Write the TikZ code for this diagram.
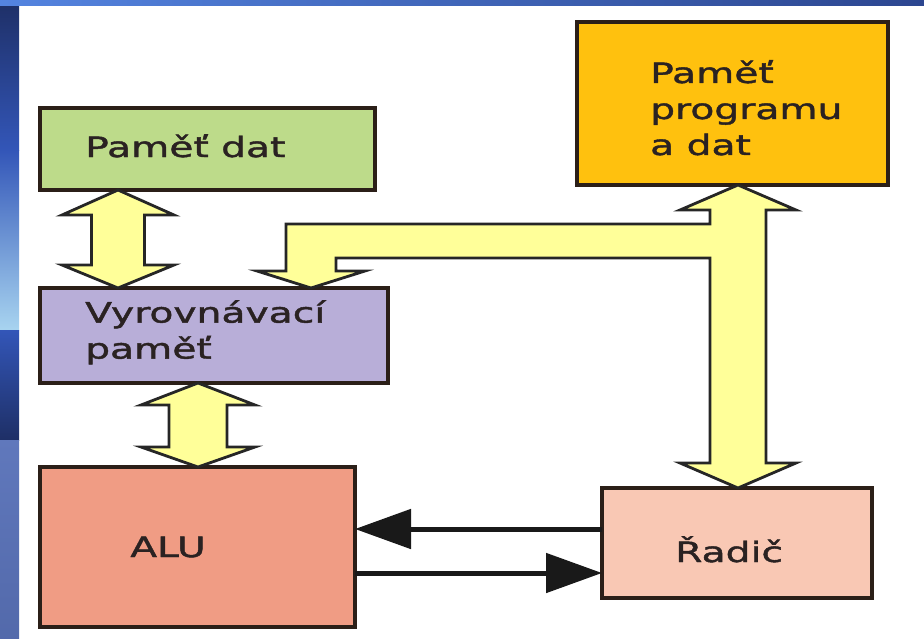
\documentclass[tikz,border=0pt]{standalone}
\usepackage{fontspec}
\setmainfont{DejaVu Sans}[FakeStretch=1.4,FakeBold=1.5]
\usetikzlibrary{arrows.meta,calc}
\definecolor{cGreen}{HTML}{BDDB8A}
\definecolor{cGold}{HTML}{FFC10E}
\definecolor{cLav}{HTML}{B8AED8}
\definecolor{cSalmon}{HTML}{F09C84}
\definecolor{cPeach}{HTML}{F9C8B4}
\definecolor{fatyellow}{HTML}{FFFF99}
\definecolor{boxline}{HTML}{2B1F18}
\definecolor{txt}{HTML}{2A2222}
\definecolor{bNavy}{HTML}{1E2F66}
\definecolor{bMid}{HTML}{3356B8}
\definecolor{bLight}{HTML}{8CBCF0}
\definecolor{bPale}{HTML}{A8D4F0}
\definecolor{bMix}{HTML}{6078BC}
\definecolor{bTopL}{HTML}{5484E0}
\definecolor{bTopD}{HTML}{141C50}
\definecolor{bTopR}{HTML}{2C4690}
\begin{document}
\begin{tikzpicture}[x=1pt,y=-1pt,
  box/.style={draw=boxline, line width=3.5pt, outer sep=0pt, inner sep=0pt},
  fat/.style={fill=fatyellow, draw=black!85, line width=2.8pt, line join=miter},
  blk/.style={line width=5pt, draw=black!90, -{Triangle[length=56pt,width=39pt]}},
  lbl/.style={inner sep=0pt, font=\fontsize{28}{36}\selectfont, text=txt}]
\useasboundingbox (0,0) rectangle (924,638);
\fill[white] (0,0) rectangle (924,638);
% slide background strips
\shade[top color=bNavy, bottom color=bMid] (0,0) rectangle (19,150);
\shade[top color=bMid, bottom color=bPale] (0,150) rectangle (19,330);
\shade[top color=bMid, bottom color=bNavy] (0,330) rectangle (19,440);
\shade[top color=bMix, bottom color=bMix!80!bNavy] (0,440) rectangle (19,638);
\shade[left color=bTopL, middle color=bTopD, right color=bTopR] (0,0) rectangle (924,5);
% boxes
\node[box, fill=cGreen, minimum width=335pt, minimum height=82pt] (pd) at (207.5,149) {};
\node[box, fill=cGold, minimum width=311pt, minimum height=163pt] (pp) at (732.5,103.5) {};
\node[box, fill=cLav, minimum width=348pt, minimum height=95pt] (vp) at (214,335.5) {};
\node[box, fill=cSalmon, minimum width=315pt, minimum height=160pt] (alu) at (197.5,547) {};
\node[box, fill=cPeach, minimum width=270pt, minimum height=110pt] (rad) at (737,543) {};
% labels
\node[lbl, anchor=base west] (pdt) at (85,157) {Paměť dat};
\node[lbl, anchor=north west, align=left] (ppt) at (650,60) {Paměť\\programu\\a dat};
\node[lbl, anchor=north west, align=left] (vpt) at (85,300) {Vyrovnávací\\paměť};
\node[lbl, anchor=base] (alut) at (168,557) {ALU};
\node[lbl, anchor=base west] (radt) at (675,562) {Řadič};
% fat arrow 1
\coordinate (a1t) at (118,0 |- pd.south);
\coordinate (a1b) at (118,0 |- vp.north);
\draw[fat] (a1t) -- ++(56,25) -- ++(-29.5,0) -- ($(a1b)+(26.5,-23)$) -- ++(29.5,0) -- (a1b)
  -- ++(-56,-23) -- ++(29.5,0) -- ($(a1t)+(-26.5,25)$) -- ++(-29.5,0) -- cycle;
% fat arrow 2
\coordinate (a2t) at (198,0 |- vp.south);
\coordinate (a2b) at (198,0 |- alu.north);
\draw[fat] (a2t) -- ++(57,22) -- ++(-28,0) -- ($(a2b)+(29,-20)$) -- ++(28,0) -- (a2b)
  -- ++(-57,-20) -- ++(28,0) -- ($(a2t)+(-29,22)$) -- ++(-28,0) -- cycle;
% big branched arrow
\coordinate (bu) at (738,0 |- pp.south);
\coordinate (bd) at (738,0 |- rad.north);
\coordinate (bv) at (311,0 |- vp.north);
\draw[fat] (bu) -- ++(58,25) -- ++(-30,0) -- ($(bd)+(28,-25)$) -- ++(30,0) -- (bd)
  -- ++(-58,-25) -- ++(30,0) -- ($(bu)+(-28,73)$) -- ($(bv)+(25,-30)$) -- ++(0,13)
  -- ++(29,0) -- (bv) -- ++(-54,-17) -- ++(29,0) -- ($(bv)+(-25,-64)$)
  -- ($(bu)+(-28,39)$) -- ++(0,-14) -- ++(-30,0) -- cycle;
% black arrows
\coordinate (r1) at ($(rad.west)+(0,-14)$);
\coordinate (r2) at ($(rad.west)+(0,30)$);
\draw[blk] (r1) -- (alu.east |- r1);
\draw[blk] (alu.east |- r2) -- (r2);
\end{tikzpicture}
\end{document}
